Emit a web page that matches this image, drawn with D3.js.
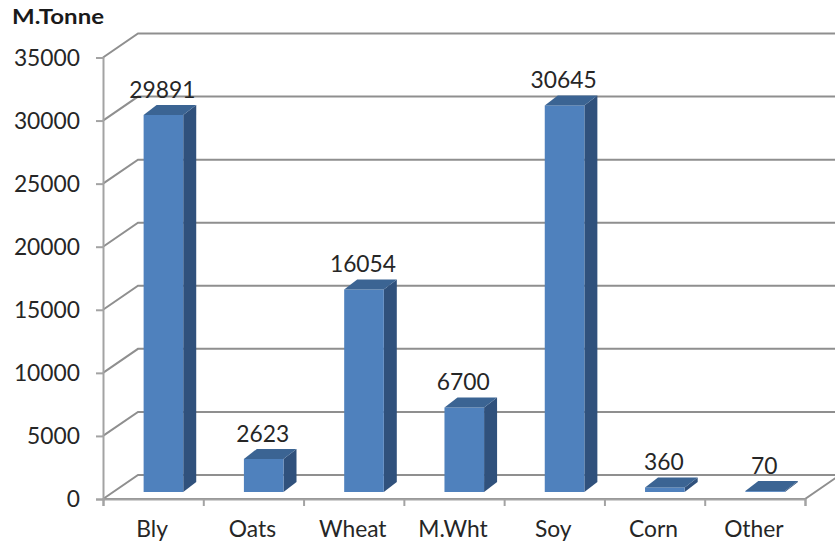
<!DOCTYPE html>
<html>
<head>
<meta charset="utf-8">
<script src="https://cdn.jsdelivr.net/npm/d3@7"></script>
<style>
  html, body { margin: 0; padding: 0; background: #fff; }
  svg { display: block; }
  text { font-family: Lato, "Open Sans", sans-serif; fill: #262626; }
</style>
</head>
<body>
<div class="canvas"></div>
<script>
// Data
var categories = ['Bly', 'Oats', 'Wheat', 'M.Wht', 'Soy', 'Corn', 'Other'];
var tonnes = [29891, 2623, 16054, 6700, 30645, 360, 70];
var yTicks = [0, 5000, 10000, 15000, 20000, 25000, 30000, 35000];

// Config
var width = 835,
    height = 546,
    left = 103,
    right = 805,
    bottom = 499,
    top3d = 57.5,
    wallX = 35,   // how far the back wall sits from the front plane
    wallY = 24,
    depthX = 13,  // bar depth
    depthY = 10,
    barLift = 7,
    fontSize = 22.8,
    gridColor = '#8f8f8f',
    axisColor = '#a3a3a3';

var svg = d3.select('.canvas').append('svg')
    .attr('width', width)
    .attr('height', height);

var y = d3.scaleLinear().domain([0, 35000]).range([bottom, top3d]);
var x = d3.scaleBand().domain(categories).range([left, right]);
var xEdges = d3.scaleLinear().domain([0, categories.length]).range([left, right]);

var barW = x.bandwidth() * 0.395,
    barOff = x.bandwidth() * 0.405;

// Gridlines on side wall and back wall
var grid = svg.append('g')
    .attr('fill', 'none')
    .attr('stroke', gridColor)
    .attr('stroke-width', 2);

grid.selectAll('path')
    .data(yTicks)
    .enter()
    .append('path')
    .attr('d', function (d) {
        return d3.line()([[left, y(d)], [left + wallX, y(d) - wallY], [width + 2, y(d) - wallY]]);
    });

// Floor front edge and right side
grid.append('path')
    .attr('d', d3.line()([[left, bottom], [right, bottom], [width + 2, bottom - wallY + 2]]));

// Axes
var yAxis = svg.append('g')
    .attr('transform', 'translate(' + left + ',0)')
    .call(d3.axisLeft(y).tickValues(yTicks).tickSize(7).tickPadding(16).tickFormat(d3.format('d')));

var xTicks = svg.append('g')
    .attr('transform', 'translate(0,' + bottom + ')')
    .call(d3.axisBottom(xEdges).ticks(categories.length).tickSize(7).tickFormat(''));

var xAxis = svg.append('g')
    .attr('transform', 'translate(-1,' + bottom + ')')
    .call(d3.axisBottom(x).tickSize(0).tickPadding(22));

[yAxis, xTicks].forEach(function (a) {
    a.selectAll('.domain, .tick line').attr('stroke', axisColor).attr('stroke-width', 2);
});
xAxis.select('.domain').remove();

yAxis.selectAll('text').attr('font-size', fontSize).attr('font-family', null).attr('dy', '0.34em');
xAxis.selectAll('text').attr('font-size', fontSize).attr('font-family', null);

// Bars
var bars = svg.selectAll('.bar')
    .data(tonnes)
    .enter()
    .append('g')
    .attr('class', 'bar');

function bx(i) { return x(categories[i]) + barOff; }
function by0() { return bottom - barLift; }
function by1(d) { return y(d) - barLift; }

// side
bars.append('path')
    .attr('fill', '#30517c')
    .attr('d', function (d, i) {
        var r = bx(i) + barW;
        return d3.line()([[r, by0()], [r + depthX, by0() - depthY], [r + depthX, by1(d) - depthY], [r, by1(d)]]) + 'Z';
    });

// front
bars.append('rect')
    .attr('fill', '#4f81bd')
    .attr('x', function (d, i) { return bx(i); })
    .attr('y', function (d) { return by1(d); })
    .attr('width', barW)
    .attr('height', function (d) { return by0() - by1(d); });

// top
bars.append('path')
    .attr('fill', '#3b6493')
    .attr('d', function (d, i) {
        var l = bx(i), t = by1(d);
        return d3.line()([[l, t], [l + depthX, t - depthY], [l + barW + depthX, t - depthY], [l + barW, t]]) + 'Z';
    });

// Value labels
bars.append('text')
    .attr('x', function (d, i) { return bx(i) + barW / 2 - 1; })
    .attr('y', function (d) { return by1(d) - depthY - 15; })
    .attr('dy', '0.35em')
    .attr('text-anchor', 'middle')
    .attr('font-size', fontSize)
    .text(function (d) { return d; });

// Unit title
svg.append('text')
    .attr('x', 12)
    .attr('y', 24)
    .attr('font-size', 20)
    .attr('font-weight', 700)
    .attr('textLength', 92)
    .attr('lengthAdjust', 'spacingAndGlyphs')
    .style('fill', '#1a1a1a')
    .text('M.Tonne');
</script>
</body>
</html>
